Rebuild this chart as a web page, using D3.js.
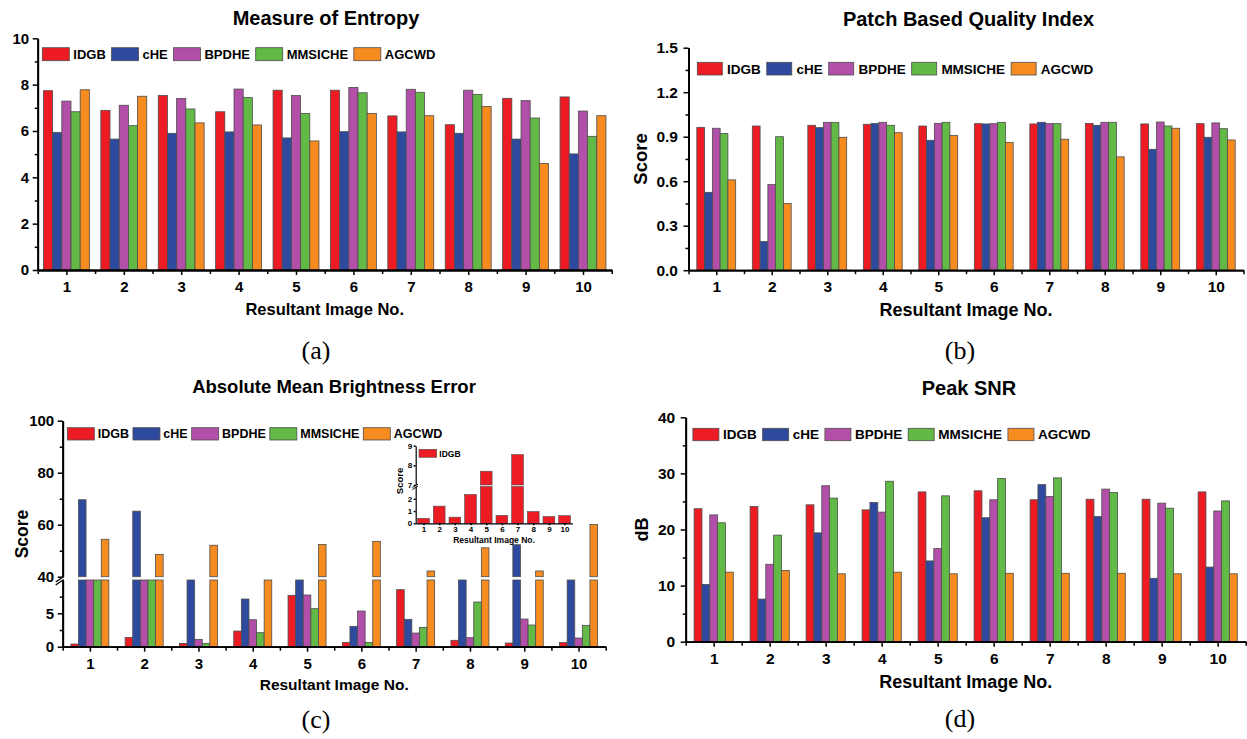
<!DOCTYPE html>
<html><head><meta charset="utf-8">
<script src="https://cdn.jsdelivr.net/npm/d3@7"></script>
<style>
body{margin:0;background:#fff}
svg{display:block}
text{font-family:"Liberation Sans",Arial,sans-serif;font-weight:bold;fill:#000}
.ax path.domain{stroke:#000;stroke-width:1.8}
.ax line{stroke:#000;stroke-width:1.5}
.cap{font-family:"Liberation Serif","Times New Roman",serif;font-weight:normal}
</style>
</head><body>
<script>
// ---------- data ----------
const images = [1,2,3,4,5,6,7,8,9,10];
const series = ["IDGB","cHE","BPDHE","MMSICHE","AGCWD"];
const colors = ["#ED1C24","#2E4A9F","#B24FA8","#62B946","#F68B1F"];

// Measure of Entropy (rows follow series order)
const entropy = [
  [7.74,6.89,7.53,6.83,7.76,7.76,6.65,6.27,7.41,7.47],
  [5.94,5.65,5.90,5.96,5.70,5.97,5.96,5.90,5.65,5.01],
  [7.29,7.11,7.40,7.81,7.53,7.88,7.80,7.76,7.31,6.86],
  [6.83,6.23,6.95,7.44,6.76,7.65,7.67,7.58,6.56,5.77],
  [7.78,7.50,6.35,6.26,5.57,6.76,6.66,7.06,4.60,6.66]
];
// Patch Based Quality Index
const pbqi = [
  [0.963,0.972,0.977,0.984,0.972,0.988,0.986,0.990,0.986,0.988],
  [0.525,0.193,0.961,0.990,0.876,0.986,0.997,0.977,0.815,0.896],
  [0.957,0.577,0.997,0.997,0.990,0.988,0.988,0.997,0.999,0.993],
  [0.921,0.900,0.995,0.977,0.997,0.997,0.988,0.997,0.972,0.954],
  [0.609,0.449,0.896,0.927,0.909,0.862,0.883,0.764,0.957,0.878]
];
// Absolute Mean Brightness Error (values between 10 and 40 are hidden by the axis break)
const ambe = [
  [0.40,1.40,0.50,2.35,7.70,0.65,8.55,0.96,0.55,0.62],
  [69.6,65.2,25.0,7.15,25.0,3.05,4.10,25.0,52.3,25.0],
  [20.0,20.0,1.10,4.05,7.75,5.35,2.05,1.35,4.15,1.30],
  [20.0,20.0,0.50,2.10,5.70,0.65,2.90,6.70,3.25,3.20],
  [54.4,48.6,52.1,30.0,52.4,53.6,42.2,51.1,42.2,60.1]
];
// Peak SNR (dB)
const psnr = [
  [23.7,24.1,24.4,23.5,26.7,26.9,25.3,25.4,25.4,26.7],
  [10.2,7.6,19.4,24.8,14.4,22.1,28.0,22.3,11.3,13.3],
  [22.6,13.8,27.8,23.1,16.6,25.3,25.9,27.2,24.7,23.3],
  [21.2,19.0,25.6,28.6,26.0,29.1,29.2,26.6,23.8,25.1],
  [12.4,12.7,12.1,12.4,12.1,12.2,12.2,12.2,12.1,12.1]
];
const entropyTicks = [0,2,4,6,8,10], entropyMinor = [1,3,5,7,9];
const pbqiTicks = [0,0.3,0.6,0.9,1.2,1.5], pbqiMinor = [0.15,0.45,0.75,1.05,1.35];
const psnrTicks = [0,10,20,30,40], psnrMinor = [5,15,25,35];
const ambeLowTicks = [0,5], ambeLowMinor = [2.5,7.5];
const ambeHighTicks = [40,60,80,100], ambeHighMinor = [50,70,90];
const insetLowTicks = [0,1,2], insetHighTicks = [7,8,9];

// ---------- helpers ----------
const svg = d3.select("body").append("svg").attr("width",1247).attr("height",739);

function xScale(x0,x1){ return d3.scaleLinear().domain([0.5,10.5]).range([x0,x1]); }

function drawXAxis(g, xs, y0, fs, pad, tick, minorTick){
  g.append("g").attr("class","ax").attr("transform",`translate(0,${y0})`)
    .call(d3.axisBottom(xs).tickValues(images).tickSize(tick).tickPadding(pad).tickSizeOuter(0))
    .call(s=>s.selectAll("text").style("font-size",fs+"px"));
  g.append("g").attr("class","ax").attr("transform",`translate(0,${y0})`)
    .call(d3.axisBottom(xs).tickValues(d3.range(0.5,11,1)).tickSize(minorTick).tickFormat("").tickSizeOuter(0));
}
function drawYAxis(g, ys, x0, major, minor, fmt, spacing, fs, tick, minorTick){
  g.append("g").attr("class","ax").attr("transform",`translate(${x0},0)`)
    .call(d3.axisLeft(ys).tickValues(major).tickFormat(fmt).tickSize(tick).tickPadding(spacing-tick).tickSizeOuter(0))
    .call(s=>s.selectAll("text").style("font-size",fs+"px"));
  if(minor.length) g.append("g").attr("class","ax").attr("transform",`translate(${x0},0)`)
    .call(d3.axisLeft(ys).tickValues(minor).tickFormat("").tickSize(minorTick).tickSizeOuter(0));
}
function legend(g, x, y, sw, sh, fs, gapIn, gapOut, names){
  let cx = x;
  names.forEach((s,i)=>{
    g.append("rect").attr("x",cx).attr("y",y).attr("width",sw).attr("height",sh)
      .attr("fill",colors[i]).attr("stroke","#4d4d4d").attr("stroke-width",0.8);
    const t = g.append("text").attr("x",cx+sw+gapIn).attr("y",y+sh/2+fs*0.36)
      .style("font-size",fs+"px").text(s);
    cx += sw + gapIn + t.node().getComputedTextLength() + gapOut;
  });
}
function label(g, x, y, txt, fs, rot, cls){
  const t = g.append("text").attr("text-anchor","middle").style("font-size",fs+"px").text(txt);
  if(cls) t.attr("class",cls);
  if(rot) t.attr("transform",`translate(${x},${y}) rotate(-90)`);
  else t.attr("x",x).attr("y",y);
  return t;
}

function barPanel(c){
  const g = svg.append("g");
  const xs = xScale(c.x0,c.x1);
  const ys = d3.scaleLinear().domain(c.domain).range([c.yBot,c.yTop]);
  const step = xs(2)-xs(1), gw = step*c.frac, bw = gw/5;
  c.data.forEach((vals,k)=>{
    g.selectAll(null).data(vals).enter().append("rect")
      .attr("x",(d,i)=>xs(images[i])-gw/2+k*bw).attr("width",bw)
      .attr("y",d=>ys(d)).attr("height",d=>ys(0)-ys(d))
      .attr("fill",colors[k]).attr("stroke","#4d4d4d").attr("stroke-width",0.8);
  });
  drawXAxis(g, xs, c.yBot, c.tickFs, 6.3, 5, 4);
  drawYAxis(g, ys, c.x0, c.major, c.minor, c.fmt, c.ySpacing, c.tickFs, 5, 3);
  legend(g, c.leg[0], c.leg[1], c.leg[2], c.leg[3], c.leg[4], c.leg[5], c.leg[6], series);
  label(g, c.titleX, c.titleY, c.title, c.titleFs);
  label(g, (c.x0+c.x1)/2, c.xlabY, "Resultant Image No.", c.xlabFs);
  if(c.ylab) label(g, c.ylabX, (c.yTop+c.yBot)/2 + c.ylabDy, c.ylab, c.ylabFs, true);
  label(g, c.capX, c.capY, c.cap, 26, false, "cap");
}

// ---------- (a) ----------
barPanel({x0:37.7,x1:611.7,yTop:38.3,yBot:270,domain:[0,10],data:entropy,frac:0.8,
  major:entropyTicks,minor:entropyMinor,fmt:d3.format("d"),ySpacing:8.5,tickFs:15,
  leg:[42.3,47.7,27,13,13,4,5.7],
  title:"Measure of Entropy",titleX:326,titleY:25,titleFs:20,
  xlabY:315,xlabFs:16.5,ylab:null,cap:"(a)",capX:316,capY:359});

// ---------- (b) ----------
barPanel({x0:688.5,x1:1243.5,yTop:47.7,yBot:270.2,domain:[0,1.5],data:pbqi,frac:0.7,
  major:pbqiTicks,minor:pbqiMinor,fmt:d3.format(".1f"),ySpacing:10.5,tickFs:15.5,
  leg:[697.3,62.3,25,12.7,13.5,4.7,6],
  title:"Patch Based Quality Index",titleX:968.5,titleY:25.5,titleFs:20,
  xlabY:316,xlabFs:18,ylab:"Score",ylabX:647,ylabDy:0,ylabFs:18.5,cap:"(b)",capX:960,capY:359});

// ---------- (d) ----------
barPanel({x0:685.7,x1:1245.7,yTop:417.3,yBot:641.7,domain:[0,40],data:psnr,frac:0.7,
  major:psnrTicks,minor:psnrMinor,fmt:d3.format("d"),ySpacing:10.5,tickFs:15.5,
  leg:[692.9,428.3,26,12.4,13.5,4,6],
  title:"Peak SNR",titleX:969,titleY:395,titleFs:20,
  xlabY:688,xlabFs:18,ylab:"dB",ylabX:648,ylabDy:0,ylabFs:18,cap:"(d)",capX:960,capY:727});

// ---------- (c) broken axis ----------
(function(){
  const g = svg.append("g");
  const x0 = 62.7, x1 = 605.7, yBot = 646.7;
  const xs = xScale(x0,x1);
  const yLow = d3.scaleLinear().domain([0,10]).range([yBot,580]);
  const yHigh = d3.scaleLinear().domain([40,100]).range([576.7,420.7]);
  const step = xs(2)-xs(1), gw = step*0.7, bw = gw/5;
  ambe.forEach((vals,k)=>{
    const gx = (d,i)=>xs(images[i])-gw/2+k*bw;
    g.selectAll(null).data(vals).enter().append("rect")
      .attr("x",gx).attr("width",bw)
      .attr("y",d=>yLow(Math.min(d,10))).attr("height",d=>yBot-yLow(Math.min(d,10)))
      .attr("fill",colors[k]).attr("stroke","#4d4d4d").attr("stroke-width",0.8);
    g.selectAll(null).data(vals.map((v,i)=>[v,i]).filter(p=>p[0]>40)).enter().append("rect")
      .attr("x",p=>gx(p[0],p[1])).attr("width",bw)
      .attr("y",p=>yHigh(p[0])).attr("height",p=>yHigh(40)-yHigh(p[0]))
      .attr("fill",colors[k]).attr("stroke","#4d4d4d").attr("stroke-width",0.8);
  });
  drawXAxis(g, xs, yBot, 15, 6.3, 5, 4);
  drawYAxis(g, yLow, x0, ambeLowTicks, ambeLowMinor, d3.format("d"), 8.5, 15, 5, 3);
  drawYAxis(g, yHigh, x0, ambeHighTicks, ambeHighMinor, d3.format("d"), 8.5, 15, 5, 3);
  // break marker
  g.append("path").attr("d",`M${x0-7},${582} L${x0+1},${576.5} M${x0-7},${585} L${x0+1},${579.5}`)
    .attr("stroke","#000").attr("stroke-width",1.3).attr("fill","none");
  legend(g, 67.3, 427.7, 27, 12.3, 12.5, 3.4, 4, series);
  label(g, 334, 392.7, "Absolute Mean Brightness Error", 18.5);
  label(g, (x0+x1)/2, 690, "Resultant Image No.", 15.5);
  label(g, 27.5, 534, "Score", 17.5, true);
  label(g, 316, 728, "(c)", 26, false, "cap");

  // inset (IDGB only)
  const ig = g.append("g");
  const ix = xScale(415.7,572.4);
  const iyLow = d3.scaleLinear().domain([0,3]).range([523.3,486.5]);
  const iyHigh = d3.scaleLinear().domain([7,9]).range([485,445.7]);
  const ibw = (ix(2)-ix(1))*0.75;
  const idgb = ambe[0];
  ig.selectAll(null).data(idgb).enter().append("rect")
    .attr("x",(d,i)=>ix(images[i])-ibw/2).attr("width",ibw)
    .attr("y",d=>iyLow(Math.min(d,3))).attr("height",d=>523.3-iyLow(Math.min(d,3)))
    .attr("fill",colors[0]).attr("stroke","#4d4d4d").attr("stroke-width",0.6);
  ig.selectAll(null).data(idgb.map((v,i)=>[v,i]).filter(p=>p[0]>7)).enter().append("rect")
    .attr("x",p=>ix(images[p[1]])-ibw/2).attr("width",ibw)
    .attr("y",p=>iyHigh(p[0])).attr("height",p=>iyHigh(7)-iyHigh(p[0]))
    .attr("fill",colors[0]).attr("stroke","#4d4d4d").attr("stroke-width",0.6);
  ig.append("g").attr("class","ax").attr("transform","translate(0,523.3)")
    .call(d3.axisBottom(ix).tickValues(images).tickFormat(d3.format("d")).tickSize(2).tickPadding(1.5).tickSizeOuter(0))
    .call(s=>s.selectAll("text").style("font-size","8px"))
    .call(s=>s.select(".domain").style("stroke-width",1.2));
  [iyLow, iyHigh].forEach((sc,j)=>{
    ig.append("g").attr("class","ax").attr("transform","translate(415.7,0)")
      .call(d3.axisLeft(sc).tickValues(j?insetHighTicks:insetLowTicks).tickFormat(d3.format("d")).tickSize(2).tickPadding(1.5).tickSizeOuter(0))
      .call(s=>s.selectAll("text").style("font-size","8px"))
      .call(s=>s.select(".domain").style("stroke-width",1.2));
  });
  ig.append("path").attr("d","M412.5,487.5 L418,484 M412.5,489.5 L418,486")
    .attr("stroke","#000").attr("stroke-width",1).attr("fill","none");
  ig.append("rect").attr("x",419).attr("y",449.3).attr("width",17.7).attr("height",8)
    .attr("fill",colors[0]).attr("stroke","#4d4d4d").attr("stroke-width",0.6);
  ig.append("text").attr("x",439.3).attr("y",456.5).style("font-size","8.5px").text(series[0]);
  label(ig, 494, 542.5, "Resultant Image No.", 8.5);
  label(ig, 403, 481, "Score", 9.5, true);
})();
</script>
</body></html>
